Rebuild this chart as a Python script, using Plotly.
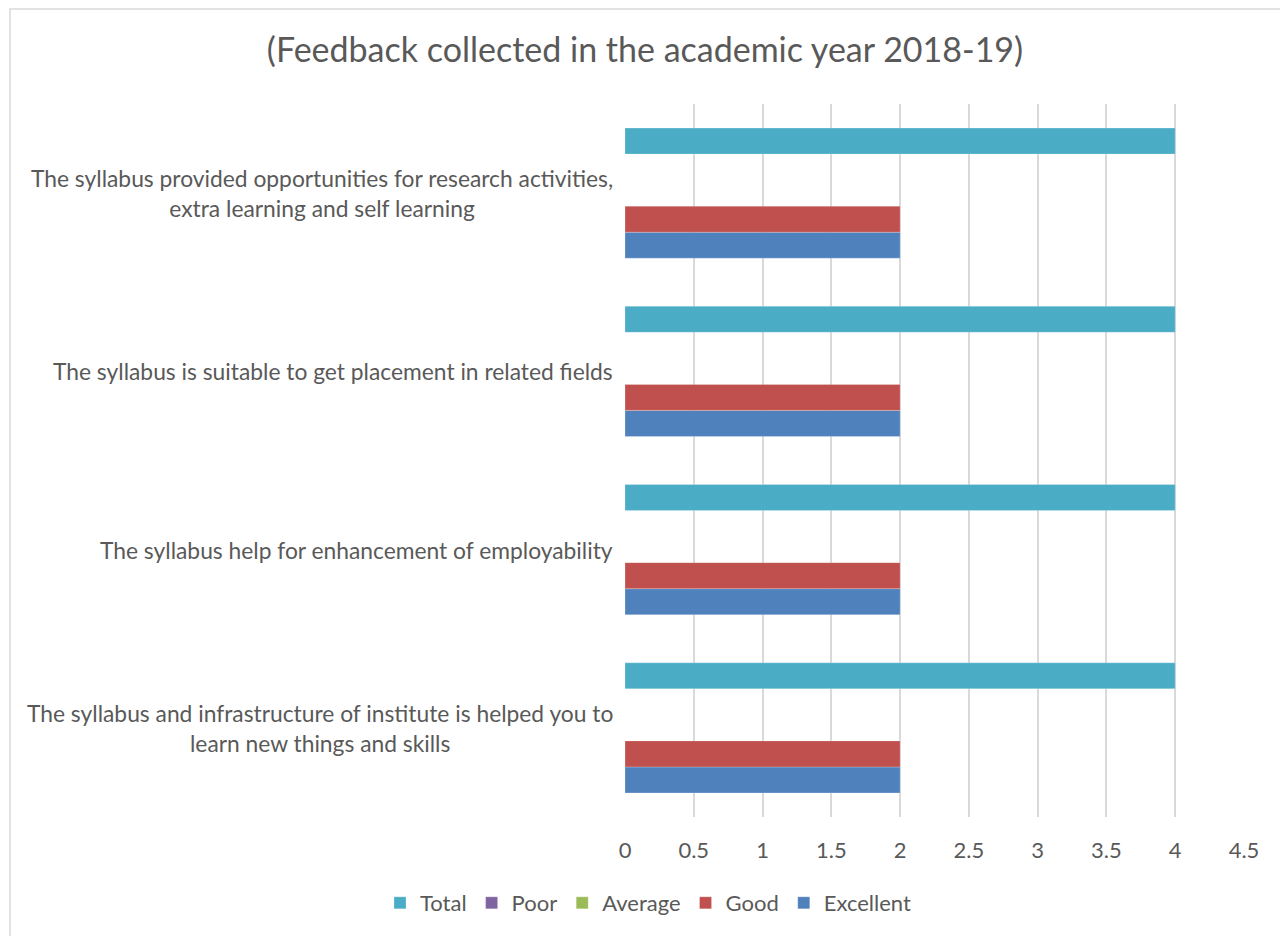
import plotly.graph_objects as go

# Data (bottom category first, as in the source chart)
questions = [
    "The syllabus and infrastructure of institute is helped you to<br>learn new things and skills",
    "The syllabus help for enhancement of employability",
    "The syllabus is suitable to get placement in related fields",
    "The syllabus provided opportunities for research activities,<br>extra learning and self learning",
]
excellent = [2, 2, 2, 2]
good = [2, 2, 2, 2]
average = [0, 0, 0, 0]
poor = [0, 0, 0, 0]
total = [4, 4, 4, 4]

series = [
    ("Excellent", excellent, "#4F81BD"),
    ("Good", good, "#C0504D"),
    ("Average", average, "#9BBB59"),
    ("Poor", poor, "#8064A2"),
    ("Total", total, "#4BACC6"),
]

TEXT = "#595959"
GRID = "#D9D9D9"
FONT = "Lato, 'Open Sans', sans-serif"

# page body has an 8px margin, so the figure is a bit smaller than the window
W, H = 1280, 928

cat_ids = list(range(len(questions)))

fig = go.Figure()
for name, vals, color in series:
    fig.add_bar(y=cat_ids, x=vals, name=name, orientation="h",
                marker=dict(color=color, line=dict(color="rgba(255,255,255,0.4)", width=0.6)))

# category labels as centered multi-line annotations
for i, q in enumerate(questions):
    fig.add_annotation(x=-0.016, xref="paper", y=i, yref="y", text=q,
                       showarrow=False, xanchor="right", yanchor="middle",
                       align="center", font=dict(size=22.8, color=TEXT, family=FONT))

# outer chart border (left/top visible)
fig.add_shape(type="rect", xref="paper", yref="paper",
              x0=-615 / 619, x1=1.2, y0=-0.5, y1=1 + 95 / 713,
              line=dict(color=GRID, width=1.5), layer="below")

fig.update_layout(
    width=W, height=H,
    paper_bgcolor="white", plot_bgcolor="white",
    font=dict(family=FONT, color=TEXT, size=22),
    margin=dict(l=617, r=44, t=96, b=119),
    barmode="group", bargap=0.27, bargroupgap=0,
    title=dict(text="(Feedback collected in the academic year 2018-19)",
               xref="container", x=637 / W, xanchor="center",
               yref="container", y=1 - 42 / H, yanchor="middle",
               font=dict(size=34, color=TEXT, family=FONT)),
    legend=dict(orientation="h", traceorder="reversed",
                xref="container", x=640 / W, xanchor="center",
                yref="container", y=1 - 895 / H, yanchor="middle",
                font=dict(size=22, color=TEXT), itemwidth=30),
    showlegend=True,
)
fig.update_xaxes(range=[0, 4.5], dtick=0.5, showgrid=True, gridcolor=GRID,
                 gridwidth=1.5, zeroline=False, showline=False,
                 tickfont=dict(size=22, color=TEXT), ticks="",
                 ticklabelstandoff=18)
fig.update_yaxes(range=[-0.5, 3.5], showticklabels=False, showgrid=False,
                 zeroline=False, showline=False, tickvals=cat_ids)

fig.write_html("out.html")
